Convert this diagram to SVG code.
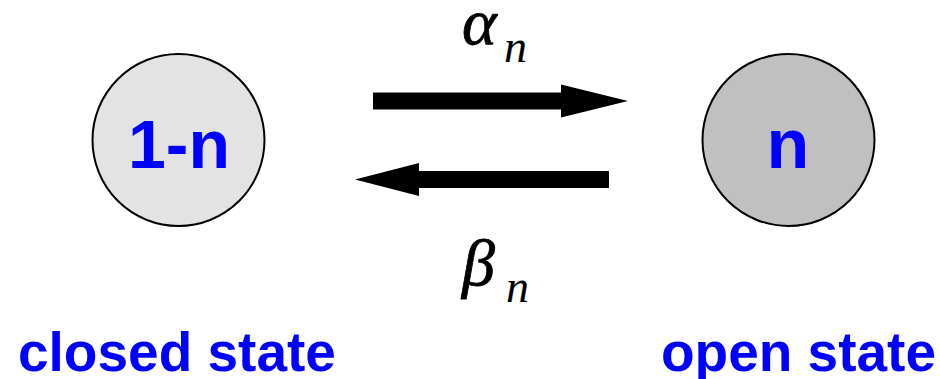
<svg xmlns="http://www.w3.org/2000/svg" width="940" height="379" viewBox="0 0 940 379">
<style>
.node{stroke:#000;stroke-width:2}
.lbl{font-family:"Liberation Sans",Arial,sans-serif;font-weight:bold;fill:#0000ff}
.greek{font-family:"Liberation Serif","Times New Roman",serif;font-style:italic;fill:#000}
.arrow{fill:#000}
</style>
<rect width="940" height="379" fill="#fff"/>
<g id="closed">
<circle class="node" cx="178.5" cy="140" r="86" fill="#e3e3e3"/>
<text class="lbl" x="179" y="168" font-size="68" text-anchor="middle">1-n</text>
<text class="lbl" x="18" y="371" font-size="55">closed state</text>
</g>
<g id="open">
<circle class="node" cx="788.5" cy="140" r="86" fill="#c0c0c0"/>
<text class="lbl" x="788" y="168" font-size="70" text-anchor="middle">n</text>
<text class="lbl" x="936" y="371" font-size="55" text-anchor="end">open state</text>
</g>
<g id="connectors">
<polygon class="arrow" points="373,92.5 561,92.5 561,84.5 628,101 561,117.5 561,109.5 373,109.5"/>
<polygon class="arrow" points="609,171 419,171 419,163 355,179.5 419,196 419,188 609,188"/>
<text class="greek" x="462" y="44" font-size="66" stroke="#000" stroke-width="0.8">α</text>
<text class="greek" x="504" y="62" font-size="46">n</text>
<text class="greek" x="462" y="285" font-size="66" stroke="#000" stroke-width="0.8">β</text>
<text class="greek" x="506" y="302" font-size="46">n</text>
</g>
</svg>
